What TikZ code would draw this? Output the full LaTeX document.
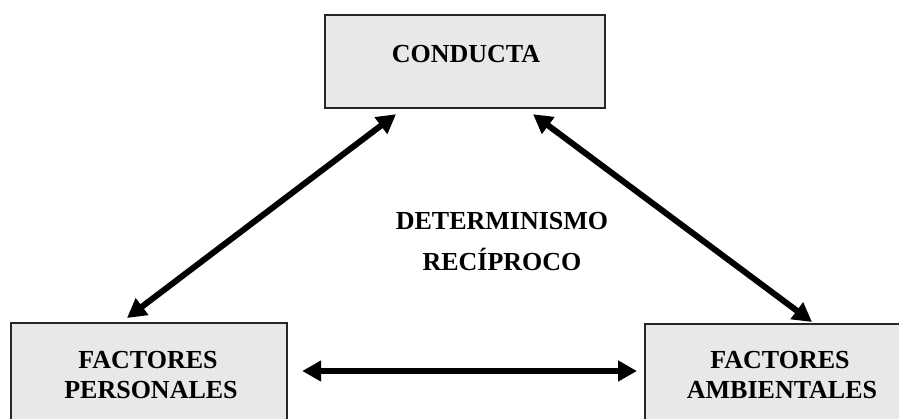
\documentclass[tikz,border=0pt]{standalone}
\usepackage{fontspec}
\setmainfont{Liberation Serif}
\usetikzlibrary{arrows.meta,calc}
\tikzset{
  box/.style={draw=black!85, line width=2.2pt, fill=black!9, rectangle, inner sep=0pt, anchor=north west},
  lbl/.style={font=\fontsize{26}{30}\selectfont\bfseries, anchor=base, inner sep=0pt},
  arr/.style={line width=6pt, {Triangle[length=19pt,width=20pt]}-{Triangle[length=19pt,width=20pt]}},
}
\begin{document}
\begin{tikzpicture}[x=1pt,y=-1pt]
\useasboundingbox (0,0) rectangle (899,418);
\clip (0,0) rectangle (899,418);
\fill[white] (0,0) rectangle (899,418);
% boxes
\node[box, minimum width=280pt, minimum height=93pt] (cond) at (324,14) {};
\node[box, minimum width=276pt, minimum height=130pt] (pers) at (10,322) {};
\node[box, minimum width=290pt, minimum height=130pt] (amb) at (644,323) {};
% texts
\node[lbl] (tcond) at (466,62) {CONDUCTA};
\node[lbl] (tdet) at (502,229) {DETERMINISMO};
\node[lbl] (trec) at (502,270) {RECÍPROCO};
\node[lbl] (tp1) at (148,368) {FACTORES};
\node[lbl] (tp2) at (151,398) {PERSONALES};
\node[lbl] (ta1) at (780,368) {FACTORES};
\node[lbl] (ta2) at (782,398) {AMBIENTALES};
% connector ends
\coordinate (cl) at ($(cond.south west)+(72,5)$);
\coordinate (cr) at ($(cond.south west)+(209,5)$);
\coordinate (pt) at ($(pers.north west)+(117,-4)$);
\coordinate (at) at ($(amb.north west)+(168,-1)$);
\coordinate (ph) at ($(pers.north east)+(14,49)$);
\coordinate (ah) at ($(amb.north west)+(-7,48)$);
% arrows
\draw[arr] (pt) -- (cl);
\draw[arr] (at) -- (cr);
\draw[arr] (ph) -- (ah);
\end{tikzpicture}
\end{document}
